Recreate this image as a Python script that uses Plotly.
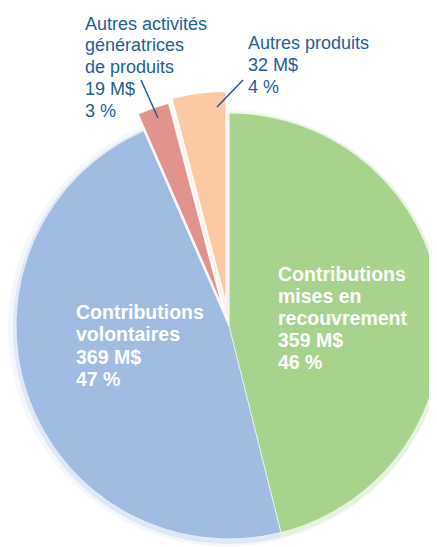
import math
import plotly.graph_objects as go

# ---------------- data ----------------
categories = ["Contributions mises en recouvrement", "Contributions volontaires",
              "Autres activités génératrices de produits", "Autres produits"]
values_musd = [359, 369, 19, 32]
percent_labels = ["46 %", "47 %", "3 %", "4 %"]
name_lines = [["Contributions", "mises en", "recouvrement"],
              ["Contributions", "volontaires"],
              ["Autres activités", "génératrices", "de produits"],
              ["Autres produits"]]

# ---------------- style ----------------
W, H = 437, 547
OFF = 8                      # page body margin (px) that shifts the figure
colors = ["#a6d48c", "#9fbde3", "#e2938b", "#fbc9a2"]
glow_cols = ["rgba(140,200,110,{a})", "rgba(110,150,215,{a})", "rgba(230,140,130,{a})", "rgba(250,180,140,{a})"]
pull_px = [0, 0, 18, 22]
R = 213
CX, CY = 229, 326            # pixel centre in the window (from top-left)
FONT = "Liberation Sans, Arial, sans-serif"
blue_txt = "#1d5e9c"

def px_x(x):
    return min(1, max(0, (x - OFF) / W))

def px_y(y):
    return min(1, max(0, 1 - (y - OFF) / H))

def domain(cx, cy, r):
    return dict(x=[px_x(cx - r), px_x(cx + r)], y=[px_y(cy + r), px_y(cy - r)])

total = sum(values_musd)
fig = go.Figure()

# soft glow (two faint layers)
for extra, a in [(6, 0.08), (3, 0.15)]:
    gr = R + extra
    gcx = min(CX, W + OFF - gr)
    fig.add_trace(go.Pie(values=values_musd, labels=categories, sort=False, direction="clockwise",
                         rotation=0, marker=dict(colors=[g.format(a=a) for g in glow_cols], line=dict(width=0)),
                         textinfo="none", hoverinfo="skip", showlegend=False,
                         domain=domain(gcx, CY + 2, gr)))

# main pie (non-pulled slices)
main_cols = [c if p == 0 else "rgba(0,0,0,0)" for c, p in zip(colors, pull_px)]
fig.add_trace(go.Pie(values=values_musd, labels=categories, sort=False, direction="clockwise",
                     rotation=0, marker=dict(colors=main_cols, line=dict(color="rgba(255,255,255,0.6)", width=1)),
                     textinfo="none", hoverinfo="label+value", showlegend=False,
                     domain=domain(CX, CY, R)))

# pulled slices: one trace each, shifted along their mid-angle
cum = 0
for i, v in enumerate(values_musd):
    mid = (cum + v / 2) / total * 2 * math.pi
    cum += v
    if pull_px[i] == 0:
        continue
    dx = math.sin(mid) * pull_px[i]
    dy = -math.cos(mid) * pull_px[i]
    cols = ["rgba(0,0,0,0)"] * len(values_musd)
    cols[i] = colors[i]
    lw = [0] * len(values_musd)
    lw[i] = 1.5
    lc = ["rgba(0,0,0,0)"] * len(values_musd)
    lc[i] = "rgba(255,255,255,0.9)"
    fig.add_trace(go.Pie(values=values_musd, labels=categories, sort=False, direction="clockwise",
                         rotation=0, marker=dict(colors=cols, line=dict(color=lc, width=lw)),
                         textinfo="none", hoverinfo="skip", showlegend=False,
                         domain=domain(CX + dx, CY + dy, R)))

# ---------------- labels ----------------
def block(lines, x0, base0, color, size, bold, step=22):
    for k, t in enumerate(lines):
        txt = f"<b>{t}</b>" if bold else t
        y = base0 + k * step - 0.36 * size
        fig.add_annotation(x=px_x(x0 - 2), y=px_y(y), xref="paper", yref="paper",
                           text=txt, showarrow=False, xanchor="left", yanchor="middle",
                           font=dict(family=FONT, size=size, color=color))

def lines_for(i):
    return name_lines[i] + [f"{values_musd[i]} M$", percent_labels[i]]

block(lines_for(0), 278, 281, "white", 19.5, True)
block(lines_for(1), 76, 319, "white", 19.5, True, step=22.5)
block(lines_for(2), 85, 30, blue_txt, 18, False, step=21.9)
block(lines_for(3), 248, 49, blue_txt, 18, False, step=22.2)

# leader lines
fig.add_shape(type="line", xref="paper", yref="paper", x0=px_x(141), y0=px_y(80), x1=px_x(158), y1=px_y(118),
              line=dict(color=blue_txt, width=1.5))
fig.add_shape(type="line", xref="paper", yref="paper", x0=px_x(243), y0=px_y(80), x1=px_x(217), y1=px_y(107),
              line=dict(color=blue_txt, width=1.5))

fig.update_layout(width=W, height=H, margin=dict(l=0, r=0, t=0, b=0),
                  paper_bgcolor="white", plot_bgcolor="white", showlegend=False)

fig.write_html("out.html")
